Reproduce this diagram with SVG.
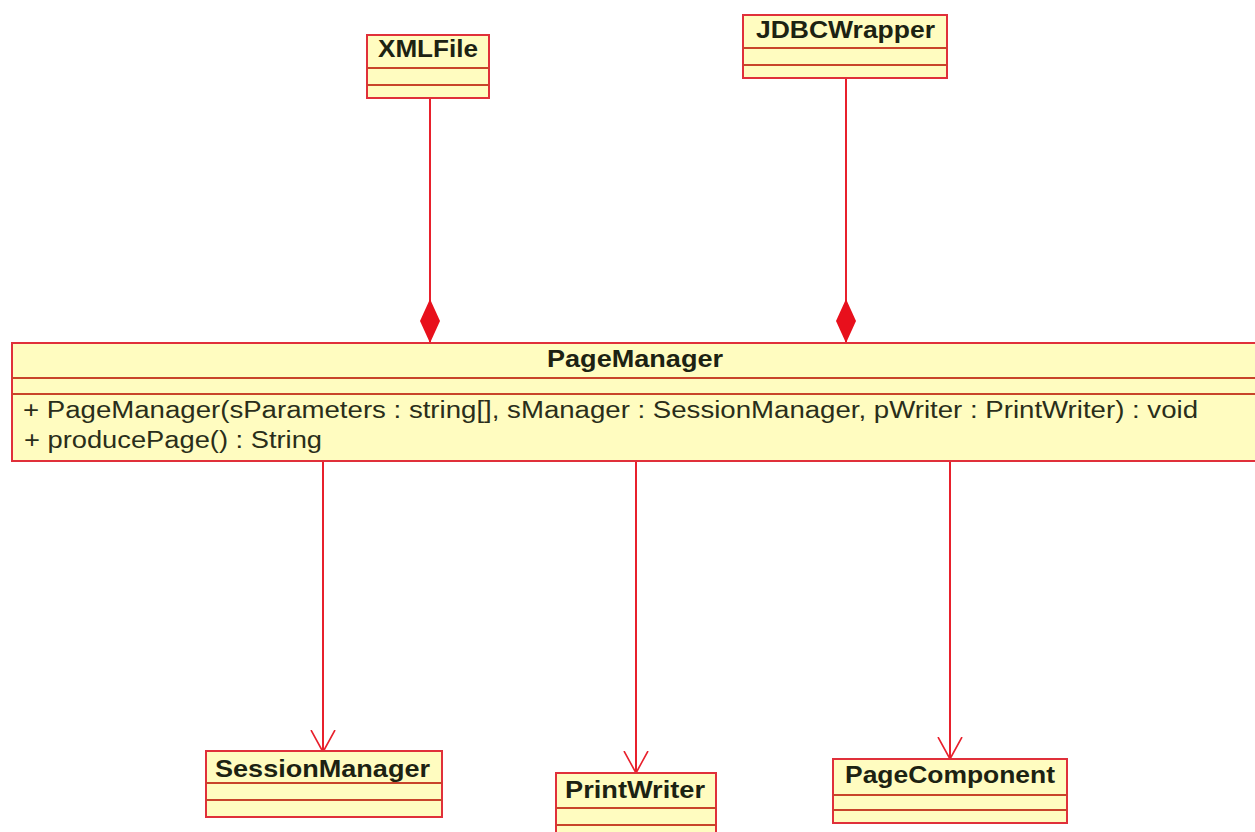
<svg xmlns="http://www.w3.org/2000/svg" width="1255" height="832" viewBox="0 0 1255 832">
  <style>
    .box { fill: #fffcc0; stroke: #e0303a; stroke-width: 2; }
    .div { stroke: #c8442a; stroke-width: 2; }
    .name { font-family: "Liberation Sans", Arial, sans-serif; font-weight: bold; font-size: 24px; fill: #1c2212; }
    .member { font-family: "Liberation Sans", Arial, sans-serif; font-size: 23px; fill: #2a2e1a; }
    .edge { stroke: #e8202c; stroke-width: 2; fill: none; }
  </style>
  <defs>
    <!-- filled diamond: composition end at the whole -->
    <marker id="diamond" viewBox="0 0 44 20" refX="44" refY="10" markerWidth="44" markerHeight="20" markerUnits="userSpaceOnUse" orient="auto">
      <path d="M0,10 L22,0 L44,10 L22,20 Z" fill="#e8101c"/>
    </marker>
    <!-- open arrowhead: navigable association -->
    <marker id="open" viewBox="0 0 24 26" refX="22" refY="13" markerWidth="24" markerHeight="26" markerUnits="userSpaceOnUse" orient="auto">
      <path d="M0,1 L22,13 L0,25" fill="none" stroke="#e8202c" stroke-width="1.6"/>
    </marker>
  </defs>
  <rect width="1255" height="832" fill="#ffffff"/>

  <g id="connectors">
    <line class="edge" x1="430" y1="98" x2="430" y2="343" marker-end="url(#diamond)"/>
    <line class="edge" x1="846" y1="78" x2="846" y2="343" marker-end="url(#diamond)"/>
    <line class="edge" x1="323" y1="461" x2="323" y2="752" marker-end="url(#open)"/>
    <line class="edge" x1="636" y1="461" x2="636" y2="773" marker-end="url(#open)"/>
    <line class="edge" x1="950" y1="461" x2="950" y2="759" marker-end="url(#open)"/>
  </g>

  <g id="XMLFile">
    <rect class="box" x="367" y="35" width="122" height="63"/>
    <line class="div" x1="367" y1="68" x2="489" y2="68"/>
    <line class="div" x1="367" y1="85" x2="489" y2="85"/>
    <text class="name" x="378" y="57" textLength="100" lengthAdjust="spacingAndGlyphs">XMLFile</text>
  </g>

  <g id="JDBCWrapper">
    <rect class="box" x="743" y="15" width="204" height="63"/>
    <line class="div" x1="743" y1="48" x2="947" y2="48"/>
    <line class="div" x1="743" y1="65" x2="947" y2="65"/>
    <text class="name" x="756" y="38" textLength="179" lengthAdjust="spacingAndGlyphs">JDBCWrapper</text>
  </g>

  <g id="PageManager">
    <rect class="box" x="12" y="343" width="1250" height="118"/>
    <line class="div" x1="12" y1="378" x2="1262" y2="378"/>
    <line class="div" x1="12" y1="394" x2="1262" y2="394"/>
    <text class="name" x="547" y="367" textLength="176" lengthAdjust="spacingAndGlyphs">PageManager</text>
    <text class="member" x="23" y="418" textLength="1175" lengthAdjust="spacingAndGlyphs">+ PageManager(sParameters : string[], sManager : SessionManager, pWriter : PrintWriter) : void</text>
    <text class="member" x="24" y="448" textLength="298" lengthAdjust="spacingAndGlyphs">+ producePage() : String</text>
  </g>

  <g id="SessionManager">
    <rect class="box" x="206" y="751" width="236" height="66"/>
    <line class="div" x1="206" y1="783" x2="442" y2="783"/>
    <line class="div" x1="206" y1="800" x2="442" y2="800"/>
    <text class="name" x="215" y="777" textLength="215" lengthAdjust="spacingAndGlyphs">SessionManager</text>
  </g>

  <g id="PrintWriter">
    <rect class="box" x="556" y="773" width="160" height="66"/>
    <line class="div" x1="556" y1="808" x2="716" y2="808"/>
    <line class="div" x1="556" y1="825" x2="716" y2="825"/>
    <text class="name" x="565" y="798" textLength="140" lengthAdjust="spacingAndGlyphs">PrintWriter</text>
  </g>

  <g id="PageComponent">
    <rect class="box" x="833" y="759" width="234" height="64"/>
    <line class="div" x1="833" y1="795" x2="1067" y2="795"/>
    <line class="div" x1="833" y1="810" x2="1067" y2="810"/>
    <text class="name" x="845" y="783" textLength="210" lengthAdjust="spacingAndGlyphs">PageComponent</text>
  </g>
</svg>
